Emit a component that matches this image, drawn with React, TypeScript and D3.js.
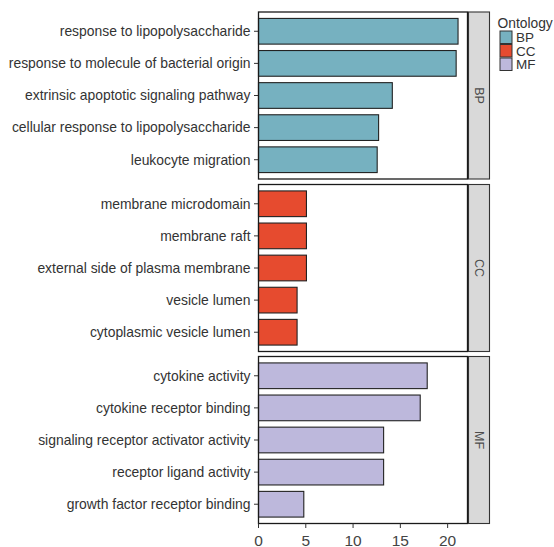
import React from "react";
import * as d3 from "d3";

// GO enrichment terms per ontology (top to bottom within each facet)
const bpTerms = [
  "response to lipopolysaccharide",
  "response to molecule of bacterial origin",
  "extrinsic apoptotic signaling pathway",
  "cellular response to lipopolysaccharide",
  "leukocyte migration",
];
const bpCounts = [21.1, 20.9, 14.15, 12.7, 12.55];

const ccTerms = [
  "membrane microdomain",
  "membrane raft",
  "external side of plasma membrane",
  "vesicle lumen",
  "cytoplasmic vesicle lumen",
];
const ccCounts = [5.07, 5.07, 5.07, 4.08, 4.08];

const mfTerms = [
  "cytokine activity",
  "cytokine receptor binding",
  "signaling receptor activator activity",
  "receptor ligand activity",
  "growth factor receptor binding",
];
const mfCounts = [17.84, 17.1, 13.23, 13.23, 4.79];

const ontologies = ["BP", "CC", "MF"];
const ontologyColors = ["#76b1c0", "#e64b2f", "#bdb8dc"];
const xTicks = [0, 5, 10, 15, 20];

const W = 554;
const H = 547;
const panelLeft = 258.5;
const panelRight = 467.5;
const panelH = 167;
const panelTops = [12, 184.5, 356.5];
const stripW = 21;
const font = "'Liberation Sans', Arial, Helvetica, sans-serif";

export default function App() {
  const x = d3.scaleLinear().domain([0, 22.1]).range([panelLeft, panelRight]);
  const facets = [
    { key: "BP", terms: bpTerms, counts: bpCounts },
    { key: "CC", terms: ccTerms, counts: ccCounts },
    { key: "MF", terms: mfTerms, counts: mfCounts },
  ];
  const color = d3.scaleOrdinal<string, string>().domain(ontologies).range(ontologyColors);
  const lastBottom = panelTops[2] + panelH;

  return (
    <svg
      width={W}
      height={H}
      style={{ position: "absolute", left: 0, top: 0, background: "#fff" }}
      fontFamily={font}
    >
      {facets.map((f, i) => {
        const top = panelTops[i];
        // discrete scale with 0.6-unit expansion at both ends, bar width 0.8
        const y = d3
          .scalePoint<string>()
          .domain(f.terms)
          .range([top, top + panelH])
          .padding(0.6);
        const step = y.step();
        const bh = step * 0.8;
        return (
          <g key={f.key}>
            <rect x={panelLeft} y={top} width={panelRight - panelLeft} height={panelH} fill="#fff" />
            {f.terms.map((t, k) => {
              const yc = y(t) as number;
              return (
                <g key={t}>
                  <rect
                    x={x(0)}
                    y={yc - bh / 2}
                    width={x(f.counts[k]) - x(0)}
                    height={bh}
                    fill={color(f.key)}
                    stroke="#222"
                    strokeWidth={1.1}
                  />
                  <line x1={panelLeft - 4.5} x2={panelLeft} y1={yc} y2={yc} stroke="#333" strokeWidth={1} />
                  <text
                    x={panelLeft - 8}
                    y={yc}
                    dy="0.35em"
                    textAnchor="end"
                    fontSize={13.9}
                    fill="#333"
                  >
                    {t}
                  </text>
                </g>
              );
            })}
            <rect
              x={panelLeft}
              y={top}
              width={panelRight - panelLeft}
              height={panelH}
              fill="none"
              stroke="#1a1a1a"
              strokeWidth={1.3}
            />
            <rect
              x={panelRight + 1}
              y={top}
              width={stripW}
              height={panelH}
              fill="#d9d9d9"
              stroke="#333"
              strokeWidth={1.1}
            />
            <text
              transform={`translate(${panelRight + 1 + stripW / 2},${top + panelH / 2}) rotate(90)`}
              textAnchor="middle"
              dy="0.35em"
              fontSize={12.5}
              fill="#4d4d4d"
            >
              {f.key}
            </text>
          </g>
        );
      })}
      {/* x axis */}
      {xTicks.map((t) => (
        <g key={t}>
          <line x1={x(t)} x2={x(t)} y1={lastBottom} y2={lastBottom + 4.5} stroke="#333" strokeWidth={1} />
          <text x={x(t)} y={lastBottom + 22} textAnchor="middle" fontSize={15.5} fill="#444">
            {t}
          </text>
        </g>
      ))}
      {/* legend */}
      <text x={497.5} y={28} fontSize={13.8} fill="#333">
        Ontology
      </text>
      {ontologies.map((o, i) => (
        <g key={o}>
          <rect
            x={500}
            y={31 + i * 13.5}
            width={12}
            height={12.5}
            fill={color(o)}
            stroke="#333"
            strokeWidth={1}
          />
          <text x={516} y={31 + i * 13.5 + 6.5} dy="0.35em" fontSize={13.5} fill="#333">
            {o}
          </text>
        </g>
      ))}
    </svg>
  );
}
